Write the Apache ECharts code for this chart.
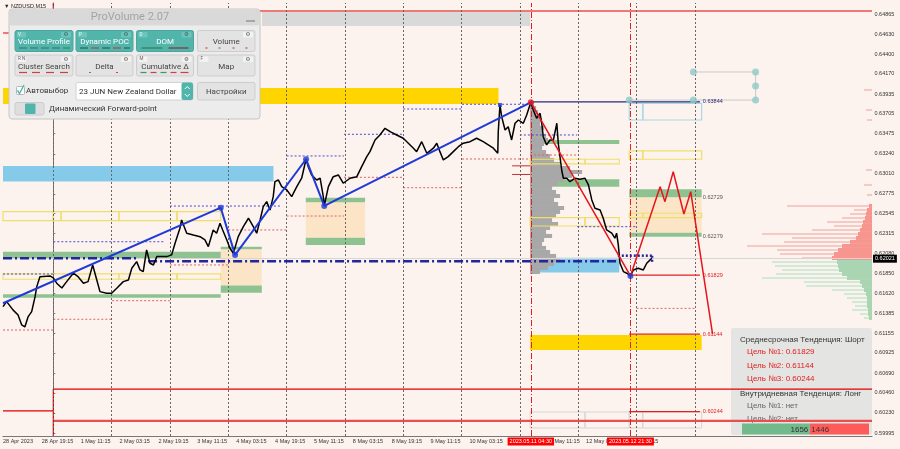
<!DOCTYPE html>
<html><head><meta charset="utf-8">
<script src="https://cdn.jsdelivr.net/npm/echarts@6/dist/echarts.min.js"></script>
<style>html,body{margin:0;padding:0;background:#fdf3ee}#c{width:900px;height:449px}</style>
</head><body><div id="c"></div>
<script>
// ---------- DATA (time in trading hours from 1 May 00:00, prices NZDUSD) ----------
const priceTime = [-20.7,-19.2,-16.6,-14.5,-13.0,-11.7,-10.4,-8.9,-7.5,-6.8,-5.5,-1.4,0.0,1.4,3.5,5.5,8.2,10.2,12.4,14.3,16.2,17.9,19.2,22.0,24.0,26.1,28.8,30.9,32.3,34.3,35.7,37.0,38.4,39.8,41.2,42.6,46.7,48.7,50.1,52.1,52.8,54.9,57.6,60.4,62.4,63.8,65.8,67.2,68.6,69.7,71.4,72.7,74.1,74.8,76.1,78.2,80.3,82.3,83.7,85.1,86.4,87.8,89.2,90.5,91.2,92.6,94.0,96.1,98.1,100.2,102.2,104.0,104.9,106.3,108.4,109.8,111.1,111.5,113.2,115.2,117.3,119.3,122.1,124.9,126.9,129.0,130.3,132.4,134.4,136.5,138.6,141.3,144.0,146.1,148.2,149.5,151.6,153.7,156.4,157.8,159.1,160.5,162.5,164.6,166.7,168.7,171.5,174.2,176.9,179.0,181.1,182.9,183.1,183.8,184.5,185.9,187.2,188.6,190.0,191.4,193.4,194.8,196.5,197.5,198.9,200.3,201.0,201.6,203.0,204.4,205.8,207.2,207.8,208.5,209.2,209.9,211.3,212.6,214.7,216.7,218.8,220.2,221.6,222.9,225.0,226.3,227.7,229.8,231.1,231.8,232.5,233.2,234.6,236.0,237.5,238.7,240.7,242.8,244.2,245.6,246.3];
const priceClose = [0.61464,0.61522,0.61426,0.61367,0.61251,0.61228,0.61344,0.61406,0.61580,0.61696,0.61812,0.61821,0.61797,0.61736,0.61681,0.61754,0.61852,0.61812,0.61736,0.61754,0.61948,0.61774,0.61638,0.61620,0.61620,0.61678,0.61754,0.61774,0.61910,0.61987,0.61890,0.61871,0.62123,0.61968,0.61948,0.62045,0.62045,0.62065,0.62201,0.62375,0.62471,0.62317,0.62297,0.62277,0.62239,0.62161,0.62355,0.62317,0.62433,0.62355,0.62239,0.62142,0.62084,0.62065,0.62277,0.62393,0.62491,0.62393,0.62317,0.62471,0.62626,0.62684,0.62587,0.62742,0.62916,0.62936,0.62858,0.62820,0.62742,0.62858,0.62956,0.63177,0.63091,0.62994,0.62936,0.62956,0.62742,0.62634,0.62858,0.62974,0.62994,0.62898,0.62956,0.62974,0.63091,0.63207,0.63265,0.63401,0.63459,0.63537,0.63497,0.63459,0.63421,0.63363,0.63305,0.63265,0.63381,0.63246,0.63305,0.63363,0.63265,0.63169,0.63207,0.63265,0.63323,0.63363,0.63381,0.63421,0.63381,0.63343,0.63305,0.63246,0.63497,0.63808,0.63672,0.63517,0.63555,0.63401,0.63595,0.63633,0.63595,0.63691,0.63839,0.63749,0.63653,0.63711,0.63595,0.63439,0.63343,0.63401,0.63401,0.63595,0.63363,0.63207,0.63052,0.62956,0.62956,0.62916,0.62956,0.62944,0.62956,0.62878,0.62704,0.62607,0.62587,0.62491,0.62355,0.62317,0.62259,0.62317,0.62181,0.61968,0.61871,0.61852,0.61821,0.61890,0.61910,0.61890,0.61968,0.62007,0.62026];

const blueZigTime  = [-20.7, 68.9, 74.8, 104.0, 111.5, 196.5];
const blueZigPrice = [0.61503, 0.62614, 0.62065, 0.63177, 0.62634, 0.63839];
const redZigTime   = [196.5, 237.5, 249.7, 251.7, 255.1, 259.5, 262.3, 271.3];
const redZigPrice  = [0.63839, 0.61821, 0.62858, 0.62684, 0.63032, 0.62541, 0.62800, 0.61144];

// zones: [startHour, endHour, lowPrice, highPrice]
const goldBands   = [[-20.7,183.2,0.63819,0.64005],[196.2,266.8,0.60961,0.61135]];
const greyBands   = [[85.9,196.2,0.64726,0.64888]];
const skyBands    = [[-20.7,90.6,0.62917,0.63099],[196.2,232.9,0.61859,0.62033]];
const greenBands  = [[-20.7,68.9,0.62021,0.62103],[-20.7,68.9,0.61567,0.61607],[68.9,85.8,0.62130,0.62161],[68.9,85.8,0.61626,0.61708],[103.9,128.3,0.62676,0.62730],[103.9,128.3,0.62180,0.62265],[196.2,232.9,0.63354,0.63401],[196.2,232.9,0.62858,0.62944],[237.0,266.8,0.62735,0.62828],[237.0,266.8,0.62277,0.62323]];
const peachBands  = [[68.9,85.8,0.61708,0.62130],[103.9,128.3,0.62265,0.62676],[237.0,266.8,0.62323,0.62735]];
const yellowBoxes = [[-20.7,0,0.62463,0.62568],[0,3.2,0.62463,0.62568],[3.2,27.0,0.62463,0.62568],[27.0,50.9,0.62463,0.62568],[50.9,68.9,0.62463,0.62568],[-20.7,27.0,0.61782,0.61844],[27.0,50.9,0.61782,0.61844],[50.9,68.9,0.61782,0.61844],[196.2,218.8,0.63122,0.63177],[218.8,232.9,0.63122,0.63177],[196.2,218.8,0.62401,0.62498],[218.8,232.9,0.62401,0.62498],[237.0,242.6,0.63177,0.63273],[242.6,266.8,0.63177,0.63273],[237.0,242.6,0.62498,0.62549],[242.6,266.8,0.62498,0.62549]];
const skyBoxes    = [[237.0,242.6,0.63633,0.63827],[242.6,266.8,0.63633,0.63827]];
const greyBoxes   = [[196.2,218.8,0.60053,0.60239],[218.8,237.0,0.60053,0.60239],[237.0,242.6,0.60053,0.60239],[242.6,266.8,0.60053,0.60239]];

// daily high / low dotted levels: [startHour, endHour, price]
const dayHighs = [[-20.7,0,0.61843],[0,46,0.62218],[48,93.3,0.62633],[96,119.6,0.63215],[119.6,144,0.63467],[144,168.2,0.63761],[168.2,196.2,0.63816],[192,215.6,0.63459],[215.6,240,0.62393]];
const dayLows  = [[-20.7,0,0.61192],[0,24.2,0.61317],[24.2,48,0.61533],[48,72,0.61948],[72,96,0.62355],[96,119.6,0.62517],[119.6,144,0.62967],[144,168.2,0.62846],[168.2,196.2,0.63180],[196.2,215.6,0.63226],[240,264.3,0.61444]];

// weekly red levels
const redLevels   = [[0,336.9,0.64900],[-20.7,0,0.64644],[0,336.9,0.60506],[-20.7,0,0.60251]];
const redLevels2  = [[0,336.9,0.60135]];
const redVerticals = [[0,0.64644,0.64993],[0,0.59960,0.60506]];
const navyDash    = [[-20.7,34.4,0.62025],[39.0,232.3,0.61990]];
const navyDot     = [[232.3,246.4,0.62056]];
const navyDotV    = [[246.4,0.61985,0.62056]];

// round-number price labels
const roundLevels = [0.63100, 0.63000];
const roundLabelTime = 183.8;
const roundLinks = [[188.8,196.2,0.63100],[188.8,196.2,0.63000]];

// target / key levels
const keyLevel = 0.63844;
const targetPrices = [0.61829, 0.61144, 0.60244];
const zoneEdgeLabels = [0.62729, 0.62279];
const levelStart = [196.2, 237.0, 237.0, 237.0];
const levelEnd = 266.1;
const levelLabelTime = 267.3;

// forward points
const fpTime  = [263.4, 289.0, 289.0, 237.0, 263.4, 289.0];
const fpPrice = [0.64191, 0.64191, 0.64028, 0.63865, 0.63865, 0.63865];
const fpLines = [[263.4,289.0,0.64191],[237.0,289.0,0.63865]];
const fpLinesV = [[289.0,0.63865,0.64191]];

// volume profile (session) : price levels and volumes
const profPrice = [0.63819,0.63773,0.63726,0.63680,0.63633,0.63587,0.63540,0.63494,0.63448,0.63401,0.63354,0.63308,0.63261,0.63215,0.63169,0.63122,0.63075,0.63029,0.62983,0.62936,0.62889,0.62843,0.62796,0.62750,0.62703,0.62657,0.62611,0.62564,0.62517,0.62471,0.62424,0.62378,0.62331,0.62285,0.62238,0.62192,0.62146,0.62099,0.62053,0.62006,0.61959,0.61913,0.61866];
const profVol   = [4,6,8,10,12,10,14,12,16,18,14,12,16,20,24,30,40,52,42,34,28,22,26,30,24,28,34,30,26,22,28,20,16,22,14,12,16,20,26,30,24,18,10];

// right-edge market profile: sell (above) and buy (below)
const sellPrice = [0.63982,0.63749,0.63633,0.63052,0.62878,0.62762,0.62634,0.62587,0.62541,0.62494,0.62448,0.62401,0.62355,0.62308,0.62262,0.62216,0.62169,0.62122,0.62076,0.62029];
const sellThin  = [8,6,5,6,8,5,85,18,22,30,45,38,60,110,80,88,125,95,92,70];
const sellCorePrice = [0.62634,0.62587,0.62541,0.62494,0.62448,0.62401,0.62355,0.62308,0.62262,0.62216,0.62169,0.62122,0.62076,0.62029];
const sellCore  = [3,5,6,7,9,10,12,14,16,22,30,34,38,40];
const buyPrice  = [0.61983,0.61936,0.61890,0.61843,0.61797,0.61750,0.61704,0.61657,0.61610,0.61564,0.61517,0.61471,0.61425,0.61378,0.61332];
const buyThin   = [100,97,90,96,110,68,66,40,28,25,20,17,20,12,8];
const buyCore   = [35,34,33,30,25,12,10,8,6,5,5,5,4,4,3];

const buySellCount = [1656, 1446];
const currentPrice = 0.62021;

// axes
const yTicks = [0.64865,0.64630,0.64400,0.64170,0.63935,0.63705,0.63475,0.63240,0.63010,0.62775,0.62545,0.62315,0.62080,0.61850,0.61620,0.61385,0.61155,0.60925,0.60690,0.60460,0.60230,0.59995];
const xLabelPos  = [-20.7,-4.75,11.25,27.25,43.25,59.25,75.25,91.25,107.25,123.25,139.25,155.25,171.25,187.25,203.25,219.25,235.25];
const xLabelText = ['28 Apr 2023','28 Apr 19:15','1 May 11:15','2 May 03:15','2 May 19:15','3 May 11:15','4 May 03:15','4 May 19:15','5 May 11:15','8 May 03:15','8 May 19:15','9 May 11:15','10 May 03:15','10 May 19:15','11 May 11:15','12 May 03:15','12 May 19:15'];
const daySeparators = [0,24,48,72,96,120,144,168,192,216,240,264];
const markerTime = [196.5, 237.5];
const markerText = ['2023.05.11 04:30','2023.05.12 21:30'];

// ---------- RENDER ----------
const X_MIN = -20.7, X_MAX = 336.9, Y_MIN = 0.59960, Y_MAX = 0.649929;
const VOL_TO_H = 1/2.43;
const FONT = '"Liberation Sans", Arial, sans-serif';
const UIFONT = 'Roboto, "Liberation Sans", sans-serif';

function zoneSeries(data, style, z){
  return {type:'custom', z, silent:true, animation:false, data, encode:{x:[0,1], y:[2,3]},
    renderItem(params, api){
      const a = api.coord([api.value(0), api.value(3)]);
      const b = api.coord([api.value(1), api.value(2)]);
      return {type:'rect', shape:{x:a[0], y:a[1], width:b[0]-a[0], height:b[1]-a[1]}, style};
    }};
}
function hSegSeries(data, style, z){
  return {type:'custom', z, silent:true, animation:false, data, encode:{x:[0,1], y:2},
    renderItem(params, api){
      const a = api.coord([api.value(0), api.value(2)]);
      const b = api.coord([api.value(1), api.value(2)]);
      return {type:'line', shape:{x1:a[0], y1:a[1], x2:b[0], y2:b[1]}, style};
    }};
}
function vSegSeries(data, style, z){
  return {type:'custom', z, silent:true, animation:false, data, encode:{x:0, y:[1,2]},
    renderItem(params, api){
      const a = api.coord([api.value(0), api.value(1)]);
      const b = api.coord([api.value(0), api.value(2)]);
      return {type:'line', shape:{x1:a[0], y1:a[1], x2:b[0], y2:b[1]}, style};
    }};
}
function histSeries(prices, vols, anchor, dir, color, half, z){
  return {type:'custom', z, silent:true, animation:false,
    data: prices.map((p,i)=>[anchor, p, vols[i]]), encode:{x:0, y:1},
    renderItem(params, api){
      const h0 = api.value(0), p = api.value(1), v = api.value(2);
      const a = api.coord([h0, p + half]);
      const b = api.coord([h0 + dir*v*VOL_TO_H, p - half]);
      return {type:'rect', shape:{x:Math.min(a[0],b[0]), y:a[1], width:Math.abs(b[0]-a[0]), height:Math.max(1,b[1]-a[1])}, style:{fill:color}};
    }};
}
function textSeries(data, colors, z){
  return {type:'custom', z, silent:true, animation:false, data, encode:{x:0,y:1},
    renderItem(params, api){
      const c = api.coord([api.value(0), api.value(1)]);
      return {type:'text', x:c[0], y:c[1], style:{text:Number(api.value(1)).toFixed(5), fill:colors[params.dataIndex], font:'5.5px ' + FONT, textAlign:'left', textVerticalAlign:'middle'}};
    }};
}

const levelData = [[levelLabelTime,keyLevel],[levelLabelTime,zoneEdgeLabels[0]],[levelLabelTime,zoneEdgeLabels[1]]].concat(targetPrices.map(p=>[levelLabelTime,p]));
const levelColors = ['#2a2a7a','#555','#555','#e02020','#e02020','#e02020'];
const levelLines = [[levelStart[0],levelEnd,keyLevel]];
const targetLines = targetPrices.map((p,i)=>[levelStart[i+1],levelEnd,p]);

// ---------- GRAPHIC (UI panels) ----------
const G = [];
const TEAL = '#52b5ac';
function R(x,y,w,h,fill,stroke,r,z){G.push({type:'rect',shape:{x,y,width:w,height:h,r:r||0},style:{fill,stroke:stroke||null,lineWidth:stroke?1:0},z:z==null?100:z,silent:true});}
function T(x,y,text,opt,z){G.push({type:'text',x,y,style:Object.assign({text,fill:'#333',fontSize:8,fontFamily:UIFONT,textAlign:'left',textVerticalAlign:'middle'},opt||{}),z:z==null?102:z,silent:true});}
function L(x1,y1,x2,y2,stroke,w,z){G.push({type:'line',shape:{x1,y1,x2,y2},style:{stroke,lineWidth:w||1},z:z==null?101:z,silent:true});}
function P(points,stroke,w){G.push({type:'polyline',shape:{points},style:{stroke,lineWidth:w||1,fill:null},z:102,silent:true});}
function btn(x,y,w,h,label,on,tag,marks){
  R(x,y,w,h,on?TEAL:'#e3e3e3',on?'#4aa59c':'#cdcdcd',2);
  if(tag){R(x+2,y+1.5,9,5.5,on?'#6cc4bb':'#f2f2f2',null,1,101);T(x+3,y+4.3,tag,{fontSize:4.5,fill:on?'#e8fffb':'#666'});}
  R(x+w-12,y+1.5,10,5.5,on?'#6cc4bb':'#f2f2f2',null,1,101);
  T(x+w-7,y+4.5,'⚙',{fontSize:5.5,fontFamily:'DejaVu Sans',textAlign:'center',fill:on?'#2d5f5a':'#555'});
  T(x+w/2,y+11.5,label,{fill:on?'#ffffff':'#444',textAlign:'center'});
  (marks||[]).forEach(m=>L(x+m[0],y+h-3.5,x+m[1],y+h-3.5,m[2],1.2));
}
// chart symbol label
T(4,6.5,'▼ NZDUSD,M15',{fontSize:5.5,fontFamily:FONT,fill:'#222'},90);
// panel
R(9,9,251,110,'#ececec','#c6c6c6',3);
R(9.5,9.5,250,16,'#d9d9d9',null,2,100);
T(130,17.5,'ProVolume 2.07',{fill:'#a3a3a3',fontSize:11,textAlign:'center'});
L(246,21,255,21,'#8a8a8a',1.3);
const d1=[[4,12,'#3d7b75'],[15,23,'#3d7b75'],[26,34,'#3d7b75'],[37,45,'#3d7b75'],[48,55,'#2f8f55']];
btn(15,30.5,58,21,'Volume Profile',true,'V',d1);
btn(76,30.5,57,21,'Dynamic POC',true,'P',[[4,12,'#2e5f5a'],[15,23,'#c04040'],[26,34,'#2e5f5a'],[37,45,'#c04040'],[48,54,'#2e5f5a']]);
btn(136.5,30.5,57,21,'DOM',true,'D',[[5,26,'#2f7f4f'],[32,52,'#8a3030']]);
btn(197.5,30.5,57.5,21,'Volume',false,'',[[8,10,'#d04040'],[21,23,'#3a9a5a'],[35,37,'#d04040'],[48,50,'#d04040']]);
btn(15,55,58,21,'Cluster Search',false,'R N',[[4,12,'#d04040'],[17,25,'#d04040'],[31,39,'#d04040'],[45,53,'#d04040']]);
btn(76,55,57,21,'Delta',false,'',[[13,15,'#3a9a5a'],[40,42,'#d04040']]);
btn(136.5,55,57,21,'Cumulative Δ',false,'M',[[4,10,'#3a9a5a'],[14,20,'#d04040'],[24,30,'#3a9a5a'],[34,40,'#d04040'],[44,52,'#d04040']]);
btn(197.5,55,57.5,21,'Map',false,'F',[]);
R(16.5,86.5,8,8,'#ffffff','#b5b5b5',1);
P([[17.5,90.5],[19.5,93.5],[24,85]],TEAL,1.4);
T(26,91,'Автовыбор',{fontSize:8});
R(76,82.5,117,17.5,'#ffffff','#d2d2d2',2);
T(79,91.5,'23 JUN New Zealand Dollar',{fontSize:8});
R(181.5,82.5,11.5,17.5,TEAL,null,2,101);
P([[184.8,89],[187.25,86.5],[189.7,89]],'#ffffff',1);
P([[184.8,94],[187.25,96.5],[189.7,94]],'#ffffff',1);
R(197.5,82.5,57.5,17.5,'#e3e3e3','#cdcdcd',2);
T(226.25,91.5,'Настройки',{textAlign:'center',fill:'#444'});
R(15,102.5,29,12.5,'#dedede','#cccccc',2);
R(25,103.5,10.5,10.5,TEAL,null,1,101);
T(49,109,'Динамический Forward-point',{fontSize:8});
// info box (below series so red levels cross it)
R(731,328,141,107,'rgba(226,226,226,0.93)',null,2,1);
T(740,340,'Среднесрочная Тенденция: Шорт',{fontSize:8,fontFamily:FONT,fill:'#333'},1);
targetPrices.forEach((p,i)=>T(747,352+i*13.5,'Цель №'+(i+1)+': '+p.toFixed(5),{fontSize:8,fontFamily:FONT,fill:'#e02020'},1));
T(740,393.5,'Внутридневная Тенденция: Лонг',{fontSize:8,fontFamily:FONT,fill:'#333'},1);
T(747,406,'Цель №1: нет',{fontSize:8,fontFamily:FONT,fill:'#666'},1);
T(747,418.5,'Цель №2: нет',{fontSize:8,fontFamily:FONT,fill:'#666'},1);
(function(){
  const bx=742, bw=127, tot=buySellCount[0]+buySellCount[1], gw=bw*buySellCount[0]/tot;
  R(bx,423.5,gw,11,'#72b98b',null,0,3);
  R(bx+gw,423.5,bw-gw,11,'#ff5a5a',null,0,3);
  T(bx+gw-1.5,429.5,String(buySellCount[0]),{fontSize:8,fontFamily:FONT,fill:'#333',textAlign:'right'},4);
  T(bx+gw+1.5,429.5,String(buySellCount[1]),{fontSize:8,fontFamily:FONT,fill:'#333'},4);
})();

const chart = echarts.init(document.getElementById('c'), null, {renderer:'canvas'});
chart.setOption({
  animation:false,
  backgroundColor:'#fdf3ee',
  grid:{left:3, right:28, top:3, bottom:13, containLabel:false, outerBoundsMode:'none'},
  xAxis:{type:'value', min:X_MIN, max:X_MAX,
    axisLine:{show:true, lineStyle:{color:'#777', width:1}}, axisTick:{show:false}, splitLine:{show:false},
    axisLabel:{customValues:xLabelPos, align:'left', margin:2.5, fontSize:5.5, fontFamily:FONT, color:'#333',
      formatter:v=>{const i=xLabelPos.findIndex(p=>Math.abs(p-v)<1e-6);return i>=0?xLabelText[i]:'';}}},
  yAxis:{type:'value', position:'right', min:Y_MIN, max:Y_MAX, scale:true,
    axisLine:{show:true, lineStyle:{color:'#777', width:1}},
    axisTick:{show:true, customValues:yTicks, length:2, lineStyle:{color:'#777'}}, splitLine:{show:false},
    axisLabel:{customValues:yTicks, margin:2.5, fontSize:5.5, fontFamily:FONT, color:'#333', formatter:v=>v.toFixed(5)}},
  graphic:{elements:G},
  series:[
    {type:'line', data:[], z:1, silent:true, markLine:{silent:true, symbol:['none','none'], animation:false,
      data: daySeparators.map(h=>({xAxis:h, lineStyle:{color:'#666', type:[2,2], width:1}, label:{show:false}}))}},
    zoneSeries(greyBands, {fill:'#d9d9d9'}, 2),
    zoneSeries(goldBands, {fill:'#ffd500'}, 2),
    zoneSeries(skyBands, {fill:'#85cbe9'}, 2),
    zoneSeries(peachBands, {fill:'#fbe5c6'}, 2),
    zoneSeries(greenBands, {fill:'#8ec290'}, 2),
    zoneSeries(skyBoxes, {fill:'none', stroke:'#a6d8e8', lineWidth:1.2}, 2),
    zoneSeries(greyBoxes, {fill:'none', stroke:'#d6d6d6', lineWidth:1}, 2),
    histSeries(profPrice, profVol, 196.2, 1, '#a8a8a8', 0.000233, 3),
    zoneSeries(yellowBoxes, {fill:'none', stroke:'#efdf6a', lineWidth:1.2}, 4),
    histSeries(sellPrice, sellThin, X_MAX, -1, '#f5c9c4', 0.00012, 3),
    histSeries(sellCorePrice, sellCore, X_MAX, -1, '#f7968f', 0.000233, 3),
    histSeries(buyPrice, buyThin, X_MAX, -1, '#d2e9d6', 0.00012, 3),
    histSeries(buyPrice, buyCore, X_MAX, -1, '#a9d5b3', 0.000233, 3),
    hSegSeries(dayHighs, {stroke:'#4a4ad0', lineWidth:1, lineDash:[2,2]}, 4),
    hSegSeries(dayLows, {stroke:'#e06060', lineWidth:1, lineDash:[2,2]}, 4),
    hSegSeries(redLevels, {stroke:'#e00000', lineWidth:1.2}, 4),
    hSegSeries(redLevels2, {stroke:'#e85050', lineWidth:2.2}, 4),
    vSegSeries(redVerticals, {stroke:'#e00000', lineWidth:1.2}, 4),
    hSegSeries(fpLines, {stroke:'#c9c9c9', lineWidth:1}, 4),
    vSegSeries(fpLinesV, {stroke:'#c9c9c9', lineWidth:1}, 4),
    hSegSeries(navyDash, {stroke:'#24249c', lineWidth:2.5, lineDash:[9,3,2,3]}, 5),
    hSegSeries(navyDot, {stroke:'#24249c', lineWidth:2.5, lineDash:[2,2]}, 5),
    vSegSeries(navyDotV, {stroke:'#24249c', lineWidth:2.5, lineDash:[2,2]}, 5),
    hSegSeries(levelLines, {stroke:'#2a2a7a', lineWidth:1.3}, 5),
    hSegSeries(targetLines, {stroke:'#e02020', lineWidth:1.2}, 5),
    hSegSeries(roundLinks, {stroke:'#c03030', lineWidth:1}, 5),
    textSeries(levelData, levelColors, 6),
    {type:'scatter', z:6, silent:true, data:roundLevels.map(p=>[roundLabelTime,p]), symbolSize:1, itemStyle:{opacity:0},
      label:{show:true, position:'inside', formatter:p=>p.value[1].toFixed(5), color:'#ffffff', fontSize:6, fontFamily:FONT,
        backgroundColor:'#e46a6a', borderColor:'#c82020', borderWidth:1, padding:[0,1]}},
    {type:'scatter', z:6, silent:true, data:fpTime.map((t,i)=>[t,fpPrice[i]]), symbolSize:7, itemStyle:{color:'#8fc9c7'}},
    {type:'line', z:7, silent:true, data:priceTime.map((t,i)=>[t,priceClose[i]]), showSymbol:false, symbol:'none',
      lineStyle:{color:'#000', width:1.5}, clip:true,
      markLine:{silent:true, symbol:['none','none'], animation:false, precision:5,
        data:[
          ...markerTime.map((h,i)=>({xAxis:h, lineStyle:{color:'#e02020', type:[6,2,1,2], width:1},
            label:{show:true, position:'start', distance:1.5, formatter:markerText[i], color:'#fff', backgroundColor:'#ff0000', padding:[1,2], fontSize:5.5, fontFamily:FONT}})),
          {yAxis:currentPrice, lineStyle:{color:'#d6d6d6', type:'solid', width:1},
            label:{show:true, position:'end', distance:1, formatter:currentPrice.toFixed(5), color:'#fff', backgroundColor:'#000', padding:[1,2], fontSize:5.5, fontFamily:FONT}}
        ]}},
    {type:'line', z:8, silent:true, data:blueZigTime.map((t,i)=>[t,blueZigPrice[i]]), showSymbol:false, symbol:'none', lineStyle:{color:'#1e3ad8', width:2}},
    {type:'line', z:8, silent:true, data:redZigTime.map((t,i)=>[t,redZigPrice[i]]), showSymbol:false, symbol:'none', lineStyle:{color:'#e8141c', width:1.5}},
    {type:'scatter', z:9, silent:true, data:blueZigTime.slice(1,5).map((t,i)=>[t,blueZigPrice[i+1]]).concat([[redZigTime[1],redZigPrice[1]]]), symbolSize:6, itemStyle:{color:'#1e3ad8'}},
    {type:'scatter', z:9, silent:true, data:[[redZigTime[0],redZigPrice[0]]], symbolSize:6, itemStyle:{color:'#e8141c'}},
    {type:'scatter', z:9, silent:true, data:[[priceTime[113],priceClose[113]]], symbol:'rect', symbolSize:4, itemStyle:{color:'#1e3ad8'}},
    {type:'scatter', z:9, silent:true, data:[[redZigTime[6]-0.6,redZigPrice[6]+0.0009]], symbolSize:1, itemStyle:{opacity:0},
      label:{show:true, position:'inside', formatter:'⇩', color:'#e8141c', fontSize:8, fontFamily:'DejaVu Sans'}}
  ]
});
</script></body></html>
